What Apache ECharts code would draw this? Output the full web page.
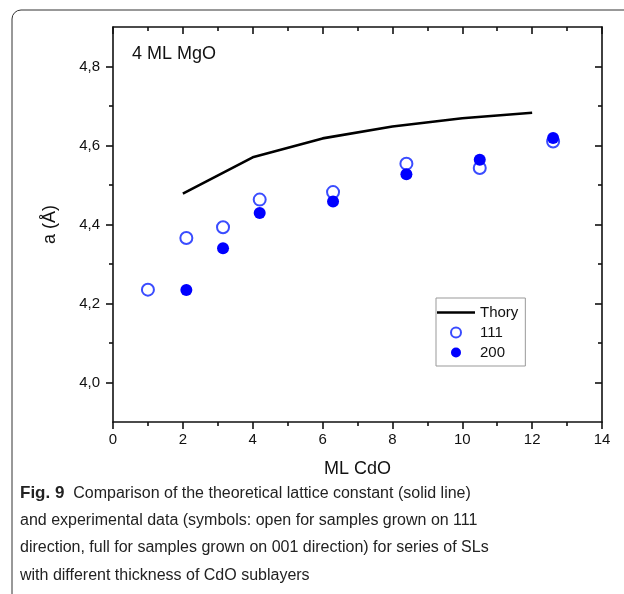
<!DOCTYPE html>
<html>
<head>
<meta charset="utf-8">
<title>Fig. 9</title>
<script src="https://cdn.jsdelivr.net/npm/echarts@6/dist/echarts.min.js"></script>
<style>
	html, body { margin: 0; padding: 0; background: #fff; }
	#fig9 { width: 624px; height: 594px; }
</style>
</head>
<body>
<div id="fig9"></div>
<script>
"use strict";

/*****Data start*****/
var theoryX = [2, 4, 6, 8, 10, 12];
var theoryA = [4.478, 4.570, 4.618, 4.648, 4.669, 4.683];

var open111X = [1.0, 2.1, 3.15, 4.2, 6.3, 8.4, 10.5, 12.6];
var open111A = [4.235, 4.366, 4.393, 4.463, 4.482, 4.554, 4.543, 4.610];

var full200X = [2.1, 3.15, 4.2, 6.3, 8.4, 10.5, 12.6];
var full200A = [4.234, 4.340, 4.429, 4.458, 4.527, 4.564, 4.619];

var yMajor = [4.0, 4.2, 4.4, 4.6, 4.8];
var yMinor = [4.1, 4.3, 4.5, 4.7];

var captionLines = [
	'Comparison of the theoretical lattice constant (solid line)',
	'and experimental data (symbols: open for samples grown on 111',
	'direction, full for samples grown on 001 direction) for series of SLs',
	'with different thickness of CdO sublayers'
];
/*****Data end*****/

var pairs = function(xs, ys) {
	return xs.map(function(x, i) { return [x, ys[i]]; });
};

var commaFmt = function(v) {
	return v.toFixed(1).replace('.', ',');
};

/*****E-Charts function start*****/
var echartsConfig = function() {
	var chart = echarts.init(document.getElementById('fig9'));
	var axisFont = { color: '#111', fontFamily: 'Liberation Sans, Arial, sans-serif', fontSize: 15 };
	var lineBlack = { color: '#111', width: 1.6 };

	var yBase = function(pos) {
		return {
			type: 'value', position: pos, min: 3.9, max: 4.9,
			axisLine: { show: true, lineStyle: lineBlack },
			splitLine: { show: false },
			axisLabel: { show: false },
			axisTick: { show: true, lineStyle: lineBlack }
		};
	};

	var yLeft = yBase('left');
	yLeft.axisLabel = { show: true, customValues: yMajor, formatter: commaFmt, margin: 13, textStyle: axisFont };
	yLeft.axisTick = { show: true, customValues: yMajor, length: 7, lineStyle: lineBlack };
	yLeft.name = 'a (Å)';
	yLeft.nameLocation = 'middle';
	yLeft.nameRotate = 90;
	yLeft.nameGap = 54;
	yLeft.nameTextStyle = { color: '#111', fontFamily: 'Liberation Sans, Arial, sans-serif', fontSize: 18 };

	var yLeftMinor = yBase('left');
	yLeftMinor.axisLine = { show: false };
	yLeftMinor.axisTick = { show: true, customValues: yMinor, length: 4, lineStyle: lineBlack };

	var yRight = yBase('right');
	yRight.axisTick = { show: true, inside: true, customValues: yMajor, length: 7, lineStyle: lineBlack };

	var yRightMinor = yBase('right');
	yRightMinor.axisLine = { show: false };
	yRightMinor.axisTick = { show: true, inside: true, customValues: yMinor, length: 4, lineStyle: lineBlack };

	var option = {
		animation: false,
		backgroundColor: '#fff',
		grid: { left: 113, top: 27, right: 22, bottom: 172, containLabel: false },
		title: {
			text: '4 ML MgO',
			left: 127, top: 40,
			textStyle: { color: '#111', fontFamily: 'Liberation Sans, Arial, sans-serif', fontSize: 18, fontWeight: 'normal' }
		},
		legend: {
			data: [
				{ name: 'Thory', icon: 'path://M0,0 L38,0 L38,2.6 L0,2.6 Z' },
				'111',
				'200'
			],
			orient: 'vertical',
			left: 436, top: 298,
			padding: [7, 7, 6, 1],
			itemWidth: 38, itemHeight: 10, itemGap: 5,
			borderColor: '#999', borderWidth: 1, borderRadius: 0,
			textStyle: { color: '#111', fontFamily: 'Liberation Sans, Arial, sans-serif', fontSize: 15 }
		},
		xAxis: [
			{
				type: 'value', position: 'bottom', min: 0, max: 14, interval: 2,
				axisLine: { show: true, lineStyle: lineBlack },
				axisTick: { show: true, length: 7, lineStyle: lineBlack },
				minorTick: { show: true, splitNumber: 2, length: 4, lineStyle: lineBlack },
				axisLabel: { margin: 10, textStyle: axisFont },
				splitLine: { show: false },
				name: 'ML CdO', nameLocation: 'middle', nameGap: 38,
				nameTextStyle: { color: '#111', fontFamily: 'Liberation Sans, Arial, sans-serif', fontSize: 18 }
			},
			{
				type: 'value', position: 'top', min: 0, max: 14, interval: 2,
				axisLine: { show: true, lineStyle: lineBlack },
				axisTick: { show: true, inside: true, length: 7, lineStyle: lineBlack },
				minorTick: { show: true, splitNumber: 2, length: 4, lineStyle: lineBlack },
				axisLabel: { show: false },
				splitLine: { show: false }
			}
		],
		yAxis: [yLeft, yLeftMinor, yRight, yRightMinor],
		series: [
			{
				name: 'Thory',
				type: 'line',
				symbol: 'none',
				lineStyle: { color: '#000', width: 2.6 },
				itemStyle: { color: '#000' },
				data: pairs(theoryX, theoryA)
			},
			{
				name: '111',
				type: 'scatter',
				symbol: 'emptyCircle',
				symbolSize: 12,
				itemStyle: { color: '#3a4cff', borderWidth: 1.2, opacity: 1 },
				data: pairs(open111X, open111A)
			},
			{
				name: '200',
				type: 'scatter',
				symbol: 'circle',
				symbolSize: 12,
				itemStyle: { color: '#0000ff', opacity: 1 },
				data: pairs(full200X, full200A)
			}
		],
		graphic: [
			{
				type: 'rect',
				shape: { x: 12, y: 10, width: 700, height: 700, r: 9 },
				style: { fill: 'none', stroke: '#333', lineWidth: 1 },
				silent: true
			}
		].concat(captionLines.map(function(line, i) {
			return {
				type: 'text',
				left: 20,
				top: 485 + i * 27.5,
				style: {
					text: i === 0 ? '{b|Fig. 9}  ' + line : line,
					fill: '#222',
					font: '16px "Liberation Sans", Arial, sans-serif',
					rich: {
						b: { fontWeight: 'bold', fontSize: 17, fontFamily: 'Liberation Sans', fill: '#222' }
					}
				}
			};
		}))
	};

	chart.setOption(option);
};
/*****E-Charts function end*****/

echartsConfig();
</script>
</body>
</html>
